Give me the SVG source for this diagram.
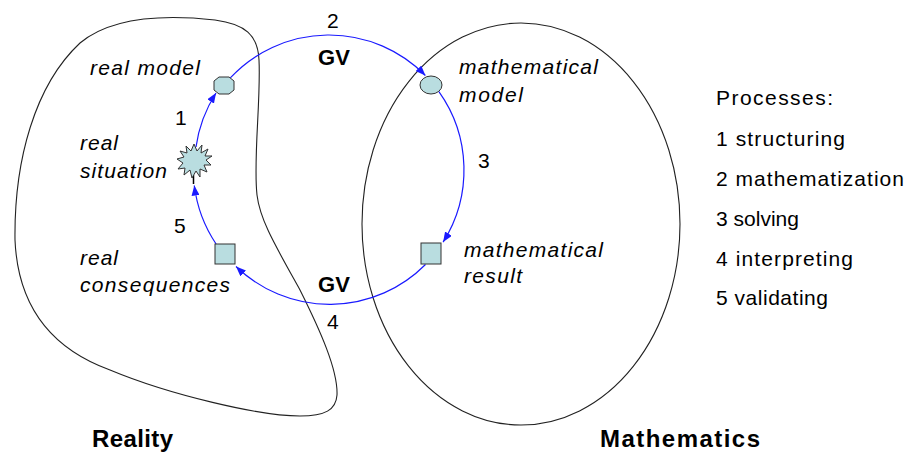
<svg xmlns="http://www.w3.org/2000/svg" width="909" height="452" viewBox="0 0 909 452">
<style>
.region{fill:none;stroke:#222;stroke-width:1.1}
.shape{fill:#b9dde0;stroke:#333;stroke-width:1}
.conn{fill:none;stroke:#1a1aff;stroke-width:1.2}
text{font-family:"Liberation Sans",Arial,sans-serif;fill:#000}
.it{font-style:italic;font-size:21px}
.num{font-size:21px}
.bold{font-weight:bold;font-size:22px}
.big{font-weight:bold;font-size:24px}
.proc{font-size:21px}
</style>
<defs>
<marker id="arr" markerUnits="userSpaceOnUse" markerWidth="10" markerHeight="8" refX="10" refY="4" orient="auto">
<path d="M0,0 L10,4 L0,8 z" fill="#1a1aff"/>
</marker>
</defs>
<rect width="909" height="452" fill="#fff"/>
<g id="reality-region">
<path class="region" d="M15,240 C14,160 35,85 80,43 C110,18 160,14 215,20 C245,24 258,35 259,60 C261,100 253,160 257,195 C260,220 275,245 300,290 C320,330 338,370 337,395 C336,410 325,416 300,416 C260,416 170,395 110,370 C55,350 18,310 15,240 Z"/>
<text class="big" x="92" y="447" textLength="81">Reality</text>
</g>
<g id="mathematics-region">
<ellipse class="region" cx="521" cy="224" rx="159" ry="201"/>
<text class="big" x="600" y="447" textLength="160">Mathematics</text>
</g>
<g id="connectors">
<path class="conn" d="M196,147 A135,135 0 0 1 216,93" marker-end="url(#arr)"/>
<path class="conn" d="M230.3,77.9 A135,135 0 0 1 425.4,75.5" marker-end="url(#arr)"/>
<path class="conn" d="M438.9,91.6 A135,135 0 0 1 443.1,242.1" marker-end="url(#arr)"/>
<path class="conn" d="M425.5,264.5 A135,135 0 0 1 236,266.5" marker-end="url(#arr)"/>
<path class="conn" d="M216.1,244 A135,135 0 0 1 194.3,185.5" marker-end="url(#arr)"/>
<text class="num" x="327" y="28">2</text>
<text class="bold" x="318" y="65" textLength="32">GV</text>
<text class="num" x="478" y="168">3</text>
<text class="bold" x="318" y="292" textLength="32">GV</text>
<text class="num" x="327" y="329">4</text>
<text class="num" x="174" y="233">5</text>
<text class="num" x="175" y="125">1</text>
</g>
<g id="real-model">
<polygon class="shape" points="219,77 229,77 234,81 234,90 229,94 219,94 214,90 214,81"/>
<text class="it" x="90" y="75" textLength="110">real model</text>
</g>
<g id="real-situation">
<line x1="193.5" y1="175" x2="193.5" y2="184" stroke="#000" stroke-width="1.5"/>
<polygon class="shape" points="194,144 197,151 202,145 201,153 208,149 205,156 212,156 206,160 211,165 204,165 207,172 200,169 200,177 196,171 192,178 190,170 184,175 185,168 178,169 183,163 177,159 184,157 180,151 187,153 186,146 191,151"/>
<text class="it" x="80" y="150" textLength="38">real</text>
<text class="it" x="80" y="178" textLength="87">situation</text>
</g>
<g id="mathematical-model">
<ellipse class="shape" cx="431" cy="85" rx="11" ry="9"/>
<text class="it" x="459" y="74" textLength="139">mathematical</text>
<text class="it" x="459" y="102" textLength="64">model</text>
</g>
<g id="mathematical-result">
<rect class="shape" x="421" y="243" width="20" height="21"/>
<text class="it" x="464" y="257" textLength="139">mathematical</text>
<text class="it" x="464" y="283" textLength="58">result</text>
</g>
<g id="real-consequences">
<rect class="shape" x="215" y="244" width="20" height="20"/>
<text class="it" x="80" y="265" textLength="38">real</text>
<text class="it" x="80" y="292" textLength="150">consequences</text>
</g>
<g id="processes">
<text class="proc" x="716" y="105" textLength="117">Processes:</text>
<text class="proc" x="716" y="146" textLength="129">1 structuring</text>
<text class="proc" x="716" y="186" textLength="188">2 mathematization</text>
<text class="proc" x="716" y="226" textLength="83">3 solving</text>
<text class="proc" x="716" y="266" textLength="137">4 interpreting</text>
<text class="proc" x="716" y="305" textLength="112">5 validating</text>
</g>
</svg>
